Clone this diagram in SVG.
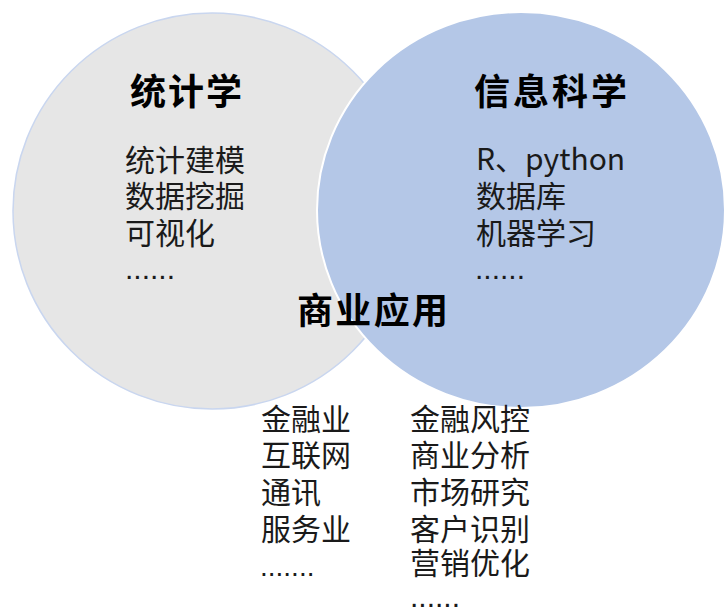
<svg xmlns="http://www.w3.org/2000/svg" width="724" height="611" viewBox="0 0 724 611">
<style>
.t{font-family:"Noto Sans CJK SC","Microsoft YaHei",sans-serif;font-size:30px;fill:#1a1a1a}
.h{font-family:"Noto Sans CJK SC","Microsoft YaHei",sans-serif;font-size:36px;font-weight:bold;fill:#000}
.d{font-family:"Liberation Sans",sans-serif;font-size:30px;fill:#1a1a1a}
</style>
<rect width="724" height="611" fill="#ffffff"/>
<g id="stats">
<ellipse cx="212" cy="211" rx="199" ry="198" fill="#e6e6e6" stroke="#c9d6ef" stroke-width="1.5"/>
</g>
<g id="info">
<ellipse cx="521" cy="210" rx="204" ry="198" fill="#b4c7e7" stroke="#ffffff" stroke-width="2"/>
</g>
<g id="stats-text">
<text class="h" x="130" y="105" textLength="112">统计学</text>
<text class="t" x="125" y="171">统计建模</text>
<text class="t" x="125" y="207">数据挖掘</text>
<text class="t" x="125" y="244">可视化</text>
<text class="d" x="125" y="279">......</text>
</g>
<g id="info-text">
<text class="h" x="474" y="105" textLength="153">信息科学</text>
<text class="t" x="476" y="170">R、python</text>
<text class="t" x="476" y="207">数据库</text>
<text class="t" x="476" y="244">机器学习</text>
<text class="d" x="475" y="279">......</text>
</g>
<g id="biz">
<text class="h" x="297" y="324" textLength="151">商业应用</text>
</g>
<g id="biz-left">
<text class="t" x="261" y="430">金融业</text>
<text class="t" x="261" y="466">互联网</text>
<text class="t" x="261" y="503">通讯</text>
<text class="t" x="261" y="540">服务业</text>
<text class="d" x="260" y="576" style="font-size:28px">.......</text>
</g>
<g id="biz-right">
<text class="t" x="410" y="430">金融风控</text>
<text class="t" x="410" y="466">商业分析</text>
<text class="t" x="410" y="503">市场研究</text>
<text class="t" x="410" y="540">客户识别</text>
<text class="t" x="410" y="574">营销优化</text>
<text class="d" x="410" y="607">......</text>
</g>
<g id="connectors"></g>
</svg>
